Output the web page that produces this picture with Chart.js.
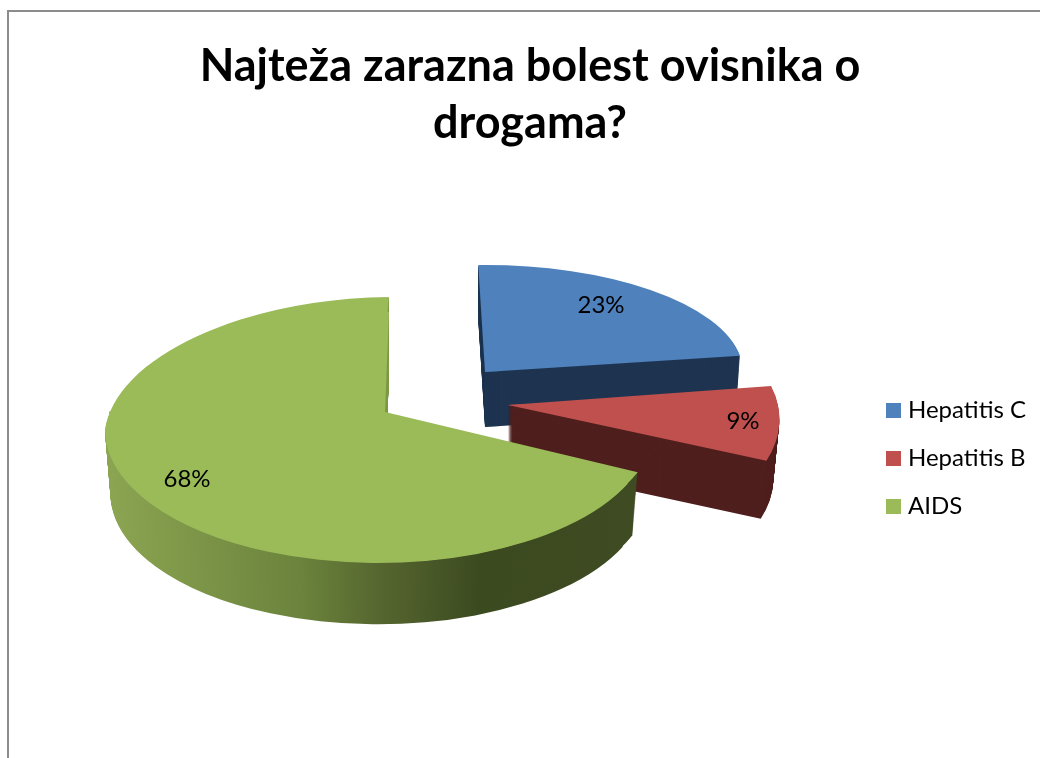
<!DOCTYPE html>
<html>
<head>
<meta charset="utf-8">
<title>Najteža zarazna bolest ovisnika o drogama?</title>
<style>
html,body{margin:0;padding:0;background:#fff;overflow:hidden}
canvas{display:block}
</style>
<script src="https://cdn.jsdelivr.net/npm/chart.js@4/dist/chart.umd.min.js"></script>
</head>
<body>
<canvas id="c" width="1040" height="758"></canvas>
<script>
const titleLines = ['Najteža zarazna bolest ovisnika o', 'drogama?'];
const categories = ['Hepatitis C', 'Hepatitis B', 'AIDS'];
const shares = [23, 9, 68];
const topColors = ['#4f81bd', '#c0504d', '#9bbb59'];
const sideColors = ['#1e3450', '#4f1f1e', null];

// How each slice is laid into the tilted view (ax,ay = apex on the page, sx = radius,
// sxu = radius of the half above the apex, up/down = foreshortened radius, su/sd = lean of that half).
const sliceViews = [
  { depth: 55, shrink: 0.985, pieces: [{ ax: 485, ay: 372, sx: 258, sxu: 258, up: 107, down: 107, su: 0, sd: 0 }] },
  { depth: 59, shrink: 0.978, pieces: [{ ax: 508, ay: 405, sx: 270, sxu: 270, up: 126, down: 139, su: 0.2, sd: 0.2 }] },
  { depth: 64, shrink: 0.98, pieces: [
      { ax: 378, ay: 430, sx: 273, sxu: 273, up: 133, down: 133, su: -0.135, sd: 0 },
      { ax: 385, ay: 412, sx: 276, sxu: 250, up: 100, down: 150, su: -0.105, sd: 0 }
  ] }
];
const labelAnchors = [
  { ax: 485, ay: 372, fx: 116, fy: -67 },
  { ax: 508, ay: 405, fx: 235, fy: 16 },
  { ax: 385, ay: 412, fx: -198, fy: 67 }
];

function paintPiece(ctx, arc, p, fill, dy, shrink) {
  const R = arc.outerRadius;
  const saved = arc.options;
  arc.options = Object.assign({}, saved, { backgroundColor: fill, borderWidth: 0 });
  const y0 = p.ay + dy;
  [[p.sxu, p.up, p.su, -2000, y0 + 0.5 + 2000], [p.sx, p.down, p.sd, y0 - 0.5, 4000]].forEach(h => {
    ctx.save();
    ctx.beginPath();
    ctx.rect(-2000, h[3], 6000, h[4]);
    ctx.clip();
    const a = h[0] * shrink / R, d = h[1] * shrink / R;
    ctx.transform(a, 0, h[2] * d, d, p.ax, y0);
    ctx.translate(-arc.x, -arc.y);
    arc.draw(ctx);
    ctx.restore();
  });
  arc.options = saved;
}

function greenSide(ctx, arc, p) {
  const R = arc.outerRadius;
  const toLocal = px => arc.x + (px - p.ax) * R / p.sx;
  const g = ctx.createLinearGradient(toLocal(105), 0, toLocal(640), 0);
  const stop = px => (px - 105) / 535;
  g.addColorStop(0, '#8ba552');
  g.addColorStop(stop(300), '#6b833c');
  g.addColorStop(stop(380), '#56662f');
  g.addColorStop(stop(480), '#3c4a20');
  g.addColorStop(1, '#3f4b22');
  return g;
}

const tiltedPie = {
  id: 'tiltedPie',
  beforeDraw(chart) {
    const ctx = chart.ctx;
    ctx.save();
    ctx.strokeStyle = '#8c8c8c';
    ctx.lineWidth = 2;
    ctx.beginPath();
    ctx.moveTo(8, 760);
    ctx.lineTo(8, 11);
    ctx.lineTo(1042, 11);
    ctx.stroke();
    ctx.restore();
  },
  afterLayout(chart) {
    const l = chart.legend;
    const w = l.right - l.left, h = l.bottom - l.top;
    l.left = 867; l.right = l.left + w;
    l.top = 374.5; l.bottom = l.top + h;
  },
  beforeDatasetsDraw(chart) {
    const ctx = chart.ctx;
    const arcs = chart.getDatasetMeta(0).data;
    arcs.forEach((arc, i) => {
      const v = sliceViews[i];
      for (let d = v.depth; d >= 1; d--) {
        const shrink = 1 - (1 - v.shrink) * d / v.depth;
        v.pieces.forEach(p => {
          const fill = sideColors[i] || greenSide(ctx, arc, p);
          paintPiece(ctx, arc, p, fill, d, shrink);
        });
      }
      if (!sideColors[i]) {
        // the small cut face beside the apex catches more light than the rim
        ctx.save();
        ctx.beginPath();
        ctx.rect(370, 290, 30, 125);
        ctx.clip();
        for (let d = v.depth; d >= 1; d--) {
          const shrink = 1 - (1 - v.shrink) * d / v.depth;
          v.pieces.forEach(p => paintPiece(ctx, arc, p, '#7f9a46', d, shrink));
        }
        ctx.restore();
      }
      v.pieces.forEach(p => paintPiece(ctx, arc, p, topColors[i], 0, 1));
    });
    return false;
  },
  afterDraw(chart) {
    const ctx = chart.ctx;
    ctx.save();
    ctx.fillStyle = '#000';
    ctx.font = '24px Lato';
    ctx.textAlign = 'center';
    ctx.textBaseline = 'middle';
    shares.forEach((s, i) => {
      const a = labelAnchors[i];
      ctx.fillText(s + '%', a.ax + a.fx, a.ay + a.fy);
    });
    ctx.restore();
  }
};

new Chart(document.getElementById('c'), {
  type: 'pie',
  data: {
    labels: categories,
    datasets: [{ data: shares, backgroundColor: topColors, borderWidth: 0 }]
  },
  options: {
    responsive: false,
    animation: false,
    rotation: -1.5,
    layout: { padding: { left: 20, top: 30 } },
    plugins: {
      tooltip: { enabled: false },
      title: {
        display: true,
        text: titleLines,
        color: '#000',
        font: { family: 'Lato', size: 45, weight: 'bold', lineHeight: 1.267 },
        padding: { top: 8, bottom: 10 }
      },
      legend: {
        position: 'right',
        align: 'start',
        labels: {
          boxWidth: 5, boxHeight: 5,
          color: '#000',
          padding: 24,
          font: { family: 'Lato', size: 24 },
          generateLabels(chart) {
            return categories.map((text, index) => ({
              text, index,
              fillStyle: topColors[index],
              strokeStyle: topColors[index],
              lineWidth: 10,
              lineJoin: 'miter',
              fontColor: '#000',
              hidden: false
            }));
          }
        }
      }
    }
  },
  plugins: [tiltedPie]
});
</script>
</body>
</html>
